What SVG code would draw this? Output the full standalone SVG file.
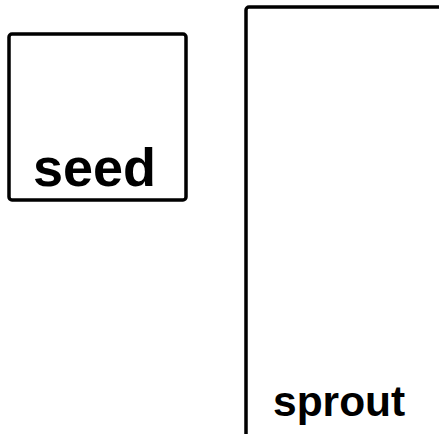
<svg xmlns="http://www.w3.org/2000/svg" width="439" height="434" viewBox="0 0 439 434">
<style>
.box{fill:#fff;stroke:#000;stroke-width:3.5}
.lbl{font-family:"Liberation Sans",Arial,sans-serif;font-weight:bold;fill:#000}
</style>
<rect width="439" height="434" fill="#fff"/>
<g id="seed">
<rect class="box" x="9" y="34" width="177" height="166" rx="3"/>
<text class="lbl" x="33" y="186" font-size="54">seed</text>
</g>
<g id="sprout">
<rect class="box" x="246" y="7" width="300" height="500" rx="3"/>
<text class="lbl" x="273" y="416" font-size="42.5">sprout</text>
</g>
<g id="connectors"></g>
</svg>
